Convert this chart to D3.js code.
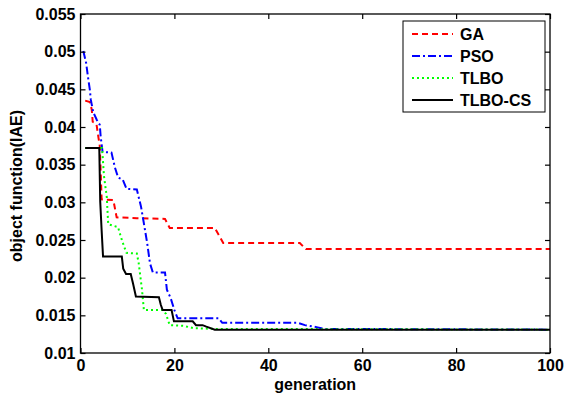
<!DOCTYPE html>
<html>
<head>
<meta charset="utf-8">
<script src="https://cdn.jsdelivr.net/npm/d3@7"></script>
<style>
  body { margin: 0; background: #fff; }
  text { font-family: "Liberation Sans", Arial, sans-serif; font-weight: bold; }
</style>
</head>
<body>
<div id="chart"></div>
<script>
// breakpoints [generation, IAE]
const gaData = [[1, 0.0435], [2, 0.0433], [2.4, 0.0423], [2.6, 0.0407], [3.4, 0.0404], [3.8, 0.0387], [4.1, 0.0375],
  [4.5, 0.0304], [7, 0.0303], [7.7, 0.0280], [12, 0.0279], [18, 0.0278], [19, 0.0266], [28.6, 0.0266],
  [30.4, 0.0246], [46.7, 0.0246], [48, 0.0238], [100, 0.0238]];
const psoData = [[0.6, 0.0501], [1.2, 0.0485], [1.6, 0.0466], [2, 0.0449], [2.2, 0.0436], [2.7, 0.0420], [3.5, 0.0409],
  [4.1, 0.0403], [4.3, 0.0387], [4.7, 0.0367], [6.6, 0.0366], [7.3, 0.0347], [8, 0.0333], [9, 0.0330],
  [9.8, 0.0318], [12, 0.0317], [12.9, 0.0294], [13.5, 0.0272], [14.2, 0.0246], [14.8, 0.0219], [15.4, 0.0207],
  [18, 0.0207], [18.4, 0.0184], [19.2, 0.0173], [20, 0.0157], [20.7, 0.0146], [29.4, 0.0146], [30.2, 0.0140],
  [46.3, 0.0140], [47.8, 0.0137], [48.8, 0.0136], [50.5, 0.0134], [51.8, 0.0132], [100, 0.0131]];
const tlboData = [[1, 0.0372], [4.6, 0.0372], [5, 0.0335], [5.6, 0.0307], [5.9, 0.0271], [8, 0.0267], [8.6, 0.0254],
  [9.3, 0.0241], [9.8, 0.0233], [12, 0.0232], [12.4, 0.0219], [13.1, 0.0184], [13.5, 0.0157], [17.5, 0.0157],
  [18.2, 0.0152], [19, 0.0137], [22, 0.0136], [24, 0.0133], [28.6, 0.0132], [100, 0.0131]];
const csData = [[1, 0.0372], [4, 0.0372], [4.2, 0.0301], [4.5, 0.0263], [4.8, 0.0228], [8.8, 0.0228], [9.1, 0.0212],
  [9.7, 0.0205], [10.7, 0.0205], [11.2, 0.0192], [11.8, 0.0175], [16.7, 0.0174], [17.1, 0.0164], [17.5, 0.0157],
  [19.4, 0.0157], [19.9, 0.0142], [23.9, 0.0142], [24.6, 0.0137], [26, 0.0137], [26.8, 0.0135], [28.6, 0.0131],
  [100, 0.0131]];

const seriesNames = ["GA", "PSO", "TLBO", "TLBO-CS"];
const seriesData = [gaData, psoData, tlboData, csData];
const colors = ["#ff0000", "#0000ff", "#00ff00", "#000000"];
const dashes = ["6,4", "8,3,2,3", "2,3", null];

const xTicks = [0, 20, 40, 60, 80, 100];
const yTicks = [0.01, 0.015, 0.02, 0.025, 0.03, 0.035, 0.04, 0.045, 0.05, 0.055];

const margin = { top: 14, right: 15, bottom: 44, left: 80.5 },
  width = 550 - margin.left,
  height = 353 - margin.top;

const svg = d3.select("#chart").append("svg")
  .attr("width", 565).attr("height", 397)
  .append("g").attr("transform", `translate(${margin.left},${margin.top})`);

const x = d3.scaleLinear().domain([0, 100]).range([0, width]);
const y = d3.scaleLinear().domain([0.01, 0.055]).range([height, 0]);

const line = d3.line().x((d) => x(d[0])).y((d) => y(d[1]));

svg.selectAll(".series").data(seriesData).enter().append("path")
  .attr("class", "series")
  .attr("d", line)
  .attr("fill", "none")
  .attr("stroke", (d, i) => colors[i])
  .attr("stroke-width", 2)
  .attr("stroke-dasharray", (d, i) => dashes[i]);

// box and ticks (inside, on all four sides)
svg.append("rect").attr("width", width).attr("height", height)
  .attr("fill", "none").attr("stroke", "#000").attr("stroke-width", 1.3);

const fmtY = (d) => d3.format("")(+d.toFixed(3));

svg.append("g").attr("transform", `translate(0,${height})`)
  .call(d3.axisBottom(x).tickValues(xTicks).tickSizeInner(-5).tickSizeOuter(0).tickPadding(7))
  .call((g) => g.select(".domain").remove());
svg.append("g")
  .call(d3.axisTop(x).tickValues(xTicks).tickSizeInner(-5).tickSizeOuter(0).tickFormat(""))
  .call((g) => g.select(".domain").remove());
svg.append("g")
  .call(d3.axisLeft(y).tickValues(yTicks).tickSizeInner(-5).tickSizeOuter(0).tickPadding(5).tickFormat(fmtY))
  .call((g) => g.select(".domain").remove());
svg.append("g").attr("transform", `translate(${width},0)`)
  .call(d3.axisRight(y).tickValues(yTicks).tickSizeInner(-5).tickSizeOuter(0).tickFormat(""))
  .call((g) => g.select(".domain").remove());

svg.selectAll(".tick line").attr("stroke", "#000").attr("stroke-width", 1.2);
svg.selectAll(".tick text").style("font-size", "16px").attr("fill", "#000");

svg.append("text")
  .attr("x", width / 2).attr("y", height + 37)
  .attr("text-anchor", "middle").style("font-size", "16px")
  .text("generation");

svg.append("text")
  .attr("transform", `translate(${22 - margin.left},${186 - margin.top}) rotate(-90)`)
  .attr("text-anchor", "middle").style("font-size", "16px")
  .text("object function(IAE)");

// legend
const legend = svg.append("g").attr("transform", `translate(${403 - margin.left},${21 - margin.top})`);
legend.append("rect").attr("width", 142).attr("height", 91)
  .attr("fill", "#fff").attr("stroke", "#000").attr("stroke-width", 1);

seriesNames.forEach((name, i) => {
  const row = legend.append("g").attr("transform", `translate(0,${13 + i * 22})`);
  row.append("line").attr("x1", 9).attr("x2", 50).attr("y1", 0).attr("y2", 0)
    .attr("stroke", colors[i]).attr("stroke-width", 2).attr("stroke-dasharray", dashes[i]);
  row.append("text").attr("x", 57).attr("y", 6).style("font-size", "16px").text(name);
});
</script>
</body>
</html>
